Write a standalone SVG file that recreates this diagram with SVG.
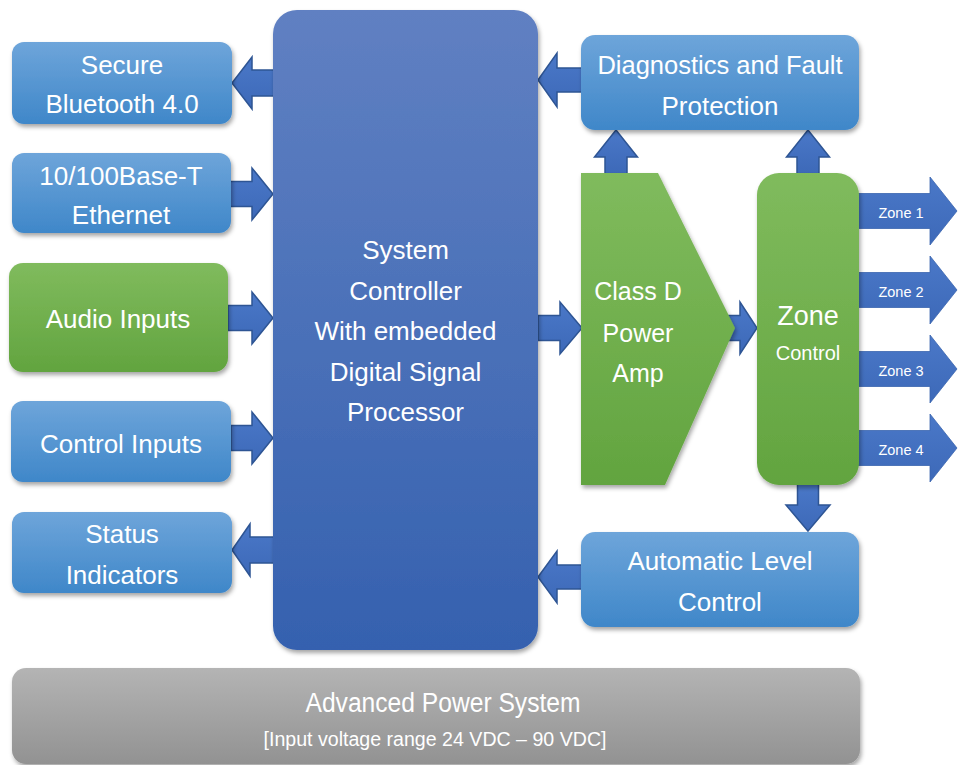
<svg xmlns="http://www.w3.org/2000/svg" width="960" height="765" viewBox="0 0 960 765">
<defs>
<linearGradient id="gBlue" x1="0" y1="0" x2="0" y2="1"><stop offset="0" stop-color="#6ea5da"/><stop offset="1" stop-color="#3f87c9"/></linearGradient>
<linearGradient id="gGreen" x1="0" y1="0" x2="0" y2="1"><stop offset="0" stop-color="#80bb5d"/><stop offset="1" stop-color="#62a43f"/></linearGradient>
<linearGradient id="gCtrl" x1="0" y1="0" x2="0" y2="1"><stop offset="0" stop-color="#6080c2"/><stop offset="1" stop-color="#3561af"/></linearGradient>
<linearGradient id="gGray" x1="0" y1="0" x2="0" y2="1"><stop offset="0" stop-color="#b4b4b4"/><stop offset="1" stop-color="#929292"/></linearGradient>
<linearGradient id="gArr" x1="0" y1="0" x2="0" y2="1"><stop offset="0" stop-color="#4a78c8"/><stop offset="1" stop-color="#3d69b8"/></linearGradient>
<filter id="sh" x="-10%" y="-10%" width="120%" height="130%"><feDropShadow dx="1.5" dy="3" stdDeviation="2" flood-color="#000" flood-opacity="0.35"/></filter>
</defs>
<style>
text{font-family:"Liberation Sans",Arial,sans-serif;fill:#ffffff;text-anchor:middle}
.t{font-size:26px}
.z{font-size:14.5px}
.blue{fill:url(#gBlue);filter:url(#sh)}
.green{fill:url(#gGreen);filter:url(#sh)}
.ctl{fill:url(#gCtrl);filter:url(#sh)}
.gray{fill:url(#gGray);filter:url(#sh)}
.arr{fill:url(#gArr);stroke:#2e5594;stroke-width:1.5;stroke-linejoin:miter}
.zarr{fill:url(#gArr);stroke:#3a64ae;stroke-width:0.8}
</style>
<rect width="960" height="765" fill="#ffffff"/>
<g id="connectors">
<polygon class="arr" points="232,83 252,57 252,70 274,70 274,96 252,96 252,109"/>
<polygon class="arr" points="230,181.5 252,181.5 252,168 273,194 252,220 252,206.5 230,206.5"/>
<polygon class="arr" points="228,305.5 252,305.5 252,292 273,318 252,344 252,330.5 228,330.5"/>
<polygon class="arr" points="231,425.5 252,425.5 252,412 273,438 252,464 252,450.5 231,450.5"/>
<polygon class="arr" points="232,550 250,524 250,537 274,537 274,563 250,563 250,576"/>
<polygon class="arr" points="538,80 557,53 557,68 582,68 582,92 557,92 557,107"/>
<polygon class="arr" points="538,577 557,551 557,565 582,565 582,589 557,589 557,603"/>
<polygon class="arr" points="538,315.5 560,315.5 560,302 582,328 560,354 560,340.5 538,340.5"/>
<polygon class="arr" points="725,315.5 740,315.5 740,302 757,328 740,354 740,340.5 725,340.5"/>
<polygon class="arr" points="616,130 637.5,157 627,157 627,174 605,174 605,157 594.5,157"/>
<polygon class="arr" points="808,130 829.5,157 819,157 819,174 797,174 797,157 786.5,157"/>
<polygon class="arr" points="808,531 830,505 818.5,505 818.5,484 797.5,484 797.5,505 786,505"/>
<polygon class="zarr" points="858,193.5 930,193.5 930,177 957,211 930,245 930,228.5 858,228.5"/>
<polygon class="zarr" points="858,272.5 930,272.5 930,256 957,290 930,324 930,307.5 858,307.5"/>
<polygon class="zarr" points="858,351.5 930,351.5 930,335 957,369 930,403 930,386.5 858,386.5"/>
<polygon class="zarr" points="858,430.5 930,430.5 930,414 957,448 930,482 930,465.5 858,465.5"/>
<text class="z" x="901" y="218">Zone 1</text>
<text class="z" x="901" y="297">Zone 2</text>
<text class="z" x="901" y="376">Zone 3</text>
<text class="z" x="901" y="455">Zone 4</text>
</g>
<g id="bluetooth">
<rect class="blue" x="12" y="42" width="220" height="82" rx="12"/>
<text class="t" x="122" y="74">Secure</text>
<text class="t" x="122" y="113">Bluetooth 4.0</text>
</g>
<g id="ethernet">
<rect class="blue" x="12" y="153" width="219" height="80" rx="12"/>
<text class="t" x="121" y="185">10/100Base-T</text>
<text class="t" x="121" y="224">Ethernet</text>
</g>
<g id="audio-inputs">
<rect class="green" x="9" y="263" width="219" height="109" rx="14"/>
<text class="t" x="118" y="328">Audio Inputs</text>
</g>
<g id="control-inputs">
<rect class="blue" x="11" y="401" width="220" height="81" rx="12"/>
<text class="t" x="121" y="453">Control Inputs</text>
</g>
<g id="status-indicators">
<rect class="blue" x="12" y="512" width="220" height="81" rx="12"/>
<text class="t" x="122" y="543">Status</text>
<text class="t" x="122" y="584">Indicators</text>
</g>
<g id="system-controller">
<rect class="ctl" x="273" y="10" width="265" height="640" rx="24"/>
<text class="t" x="405.5" y="259">System</text>
<text class="t" x="405.5" y="300">Controller</text>
<text class="t" x="405.5" y="340">With embedded</text>
<text class="t" x="405.5" y="381">Digital Signal</text>
<text class="t" x="405.5" y="421">Processor</text>
</g>
<g id="diagnostics">
<rect class="blue" x="581" y="35" width="278" height="95" rx="14"/>
<text class="t" x="720" y="74" style="font-size:25.5px">Diagnostics and Fault</text>
<text class="t" x="720" y="115">Protection</text>
</g>
<g id="class-d-amp">
<polygon class="green" points="581,173 658,173 735,328 665,485 581,485"/>
<text class="t" x="638" y="300" style="font-size:25px">Class D</text>
<text class="t" x="638" y="342" style="font-size:25px">Power</text>
<text class="t" x="638" y="382" style="font-size:25px">Amp</text>
</g>
<g id="zone-control">
<rect class="green" x="757" y="173" width="102" height="312" rx="22"/>
<text x="808" y="325" style="font-size:27px">Zone</text>
<text x="808" y="360" style="font-size:20px">Control</text>
</g>
<g id="automatic-level-control">
<rect class="blue" x="581" y="532" width="278" height="95" rx="14"/>
<text class="t" x="720" y="570">Automatic Level</text>
<text class="t" x="720" y="611">Control</text>
</g>
<g id="power-system">
<rect class="gray" x="12" y="668" width="848" height="96" rx="14"/>
<text x="443" y="712" style="font-size:27px" textLength="275" lengthAdjust="spacingAndGlyphs">Advanced Power System</text>
<text x="435" y="746" style="font-size:20px" textLength="343" lengthAdjust="spacingAndGlyphs">[Input voltage range 24 VDC – 90 VDC]</text>
</g>
</svg>
